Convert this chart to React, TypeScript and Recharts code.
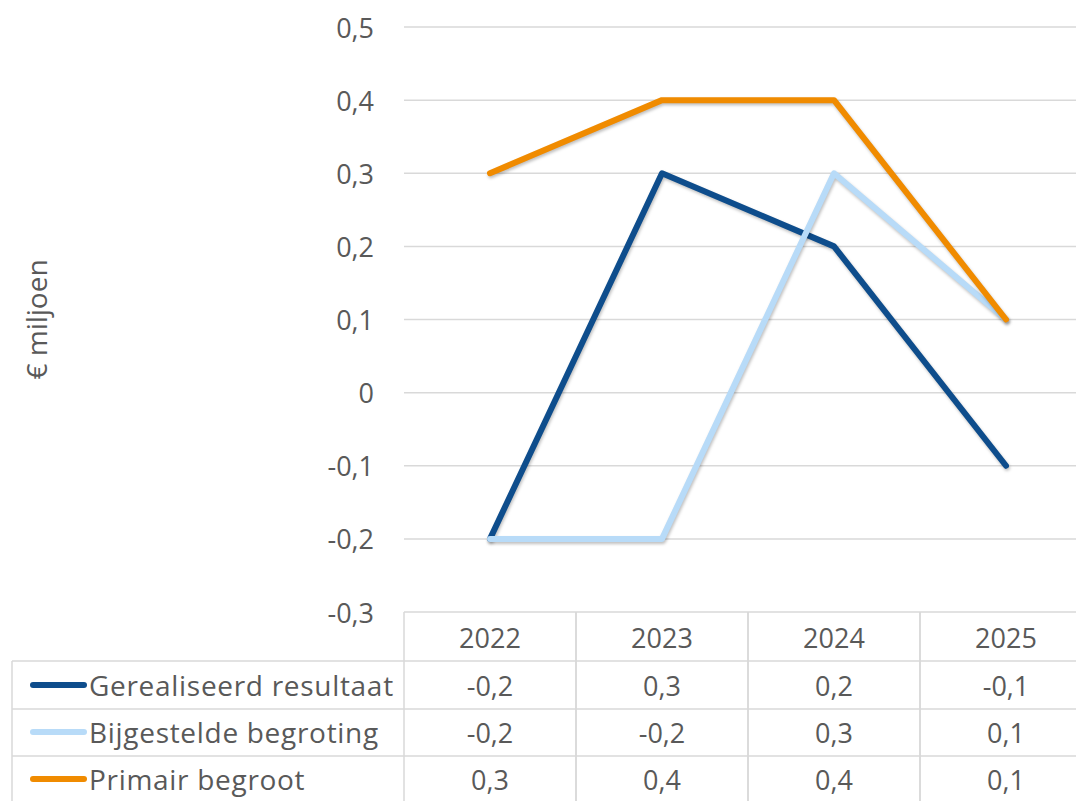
import React from 'react';
import { LineChart, Line, XAxis, YAxis, CartesianGrid } from 'recharts';

const years = ['2022', '2023', '2024', '2025'];
const gerealiseerd = [-0.2, 0.3, 0.2, -0.1];
const bijgesteld = [-0.2, -0.2, 0.3, 0.1];
const primair = [0.3, 0.4, 0.4, 0.1];
const yTicks = [-0.3, -0.2, -0.1, 0, 0.1, 0.2, 0.3, 0.4, 0.5];

const seriesInfo = [
  { key: 'gerealiseerd', name: 'Gerealiseerd resultaat', color: '#0e4d8c', values: gerealiseerd },
  { key: 'bijgesteld', name: 'Bijgestelde begroting', color: '#b8dbf8', values: bijgesteld },
  { key: 'primair', name: 'Primair begroot', color: '#f08b00', values: primair },
];

const data = years.map((y, i) => ({
  year: y,
  gerealiseerd: gerealiseerd[i],
  bijgesteld: bijgesteld[i],
  primair: primair[i],
}));

const fmt = (v: number) => {
  const r = Math.round(v * 10) / 10;
  if (r === 0) return '0';
  return r.toFixed(1).replace('.', ',');
};

const TEXT = '#595959';
const GRID = '#d9d9d9';
const FONT = '"Open Sans", "Liberation Sans", Arial, sans-serif';

const TableTick = (props: any) => {
  const { x, y, payload, index } = props;
  const half = 86;
  const rowsY = [73, 120, 167];
  const lines = [49, 97, 144];
  return (
    <g>
      <line x1={x - half} x2={x - half} y1={y} y2={y + 189} stroke={GRID} strokeWidth={1.5} />
      <line x1={x + half} x2={x + half} y1={y} y2={y + 189} stroke={GRID} strokeWidth={1.5} />
      {lines.map((ly) => (
        <line key={ly} x1={x - half} x2={x + half} y1={y + ly} y2={y + ly} stroke={GRID} strokeWidth={1.5} />
      ))}
      <text x={x} y={y + 25} textAnchor="middle" dominantBaseline="central" fill={TEXT} fontSize={27} fontFamily={FONT}>
        {payload.value}
      </text>
      {seriesInfo.map((s, si) => (
        <text key={s.key} x={x} y={y + rowsY[si]} textAnchor="middle" dominantBaseline="central" fill={TEXT} fontSize={27} fontFamily={FONT}>
          {fmt(s.values[index])}
        </text>
      ))}
      {index === 0 && (
        <g>
          <line x1={12} x2={12} y1={y + 49} y2={y + 189} stroke={GRID} strokeWidth={1.5} />
          {lines.map((ly) => (
            <line key={'l' + ly} x1={12} x2={x - half} y1={y + ly} y2={y + ly} stroke={GRID} strokeWidth={1.5} />
          ))}
          {seriesInfo.map((s, si) => (
            <g key={'leg' + s.key}>
              <line x1={33} x2={84} y1={y + rowsY[si]} y2={y + rowsY[si]} stroke={s.color} strokeWidth={6} strokeLinecap="round" />
              <text x={89} y={y + rowsY[si]} textAnchor="start" dominantBaseline="central" fill={TEXT} fontSize={28} letterSpacing={0.7} fontFamily={FONT}>
                {s.name}
              </text>
            </g>
          ))}
        </g>
      )}
    </g>
  );
};

const YTick = (props: any) => {
  const { y, payload } = props;
  return (
    <text x={374} y={y} textAnchor="end" dominantBaseline="central" fill={TEXT} fontSize={27} fontFamily={FONT}>
      {fmt(payload.value)}
    </text>
  );
};

const YLabel = (props: any) => {
  const { viewBox } = props;
  const cy = viewBox.y + viewBox.height / 2;
  const cx = 36;
  return (
    <text x={cx} y={cy} textAnchor="middle" dominantBaseline="central" transform={`rotate(-90, ${cx}, ${cy})`} fill={TEXT} fontSize={28} fontFamily={FONT}>
      € miljoen
    </text>
  );
};

export default function App() {
  return (
    <div style={{ position: 'absolute', left: 0, top: 0, width: 1076, height: 801, overflow: 'hidden', background: '#fff' }}>
      <style>{`.recharts-line-curve { filter: drop-shadow(1px 2px 1.5px rgba(0,0,0,0.25)); }`}</style>
      <LineChart width={1092} height={801} data={data} margin={{ top: 27, right: 0, bottom: 0, left: 0 }}>
        <CartesianGrid horizontal={true} vertical={false} stroke={GRID} strokeWidth={1.5} />
        <XAxis
          dataKey="year"
          height={189}
          axisLine={false}
          tickLine={false}
          tickSize={0}
          tickMargin={0}
          padding={{ left: 86, right: 86 }}
          interval={0}
          tick={<TableTick />}
        />
        <YAxis
          width={404}
          domain={[-0.3, 0.5]}
          ticks={yTicks}
          axisLine={false}
          tickLine={false}
          tick={<YTick />}
          label={<YLabel />}
        />
        {seriesInfo.map((s) => (
          <Line
            key={s.key}
            dataKey={s.key}
            name={s.name}
            stroke={s.color}
            strokeWidth={6}
            strokeLinecap="round"
            strokeLinejoin="round"
            dot={false}
            activeDot={false}
            isAnimationActive={false}
          />
        ))}
      </LineChart>
    </div>
  );
}
